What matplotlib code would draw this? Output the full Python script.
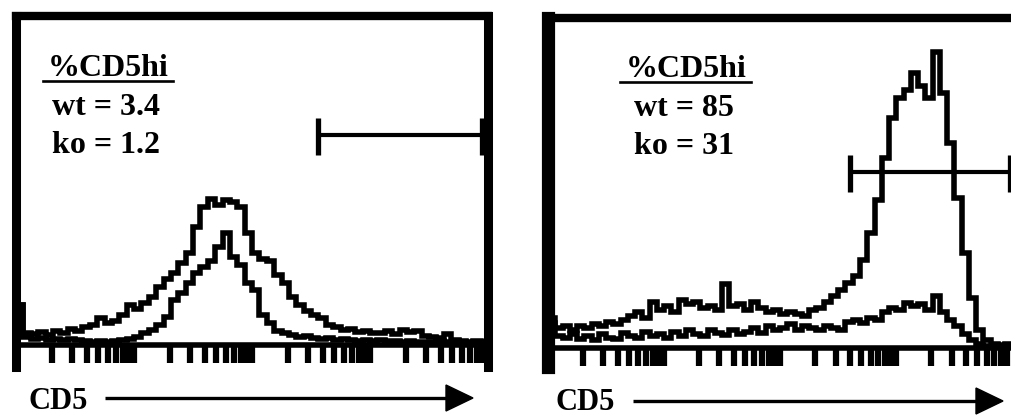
import numpy as np
import matplotlib
matplotlib.use("Agg")
import matplotlib.pyplot as plt
from matplotlib.patches import Polygon

# ---------------- data (counts per 4-channel bin, 256 channels, log 4 decades) -------------
left_wt = [40, 12, 11, 13, 10, 14, 12, 16, 14, 18, 20, 27, 22, 24, 30, 40,
           36, 42, 48, 58, 66, 72, 82, 92, 118, 138, 146, 140, 145, 143, 138, 112,
           92, 86, 84, 70, 62, 48, 40, 34, 30, 27, 20, 18, 15, 16, 13, 14,
           12, 12, 14, 11, 15, 13, 14, 9, 8, 7, 11, 5, 4, 3, 4, 3]
left_ko = [40, 8, 6, 7, 5, 6, 5, 6, 5, 4, 3, 4, 3, 4, 5, 6,
           8, 12, 15, 20, 28, 45, 52, 62, 72, 78, 84, 98, 112, 88, 80, 62,
           55, 30, 22, 14, 12, 10, 8, 9, 7, 6, 7, 5, 6, 5, 4, 5,
           4, 5, 4, 4, 3, 4, 3, 3, 3, 4, 3, 3, 2, 2, 2, 2]
right_wt = [30, 20, 22, 18, 22, 20, 24, 22, 26, 24, 28, 32, 36, 30, 46, 38,
            42, 36, 48, 44, 46, 40, 42, 38, 64, 42, 44, 38, 46, 40, 36, 38,
            34, 36, 34, 32, 38, 40, 46, 52, 58, 65, 72, 88, 115, 148, 190, 230,
            250, 258, 275, 262, 250, 296, 255, 205, 150, 95, 50, 18, 8, 4, 3, 4]
right_ko = [25, 12, 10, 14, 9, 12, 8, 14, 10, 9, 15, 12, 10, 16, 12, 14,
            10, 16, 12, 18, 14, 12, 18, 15, 13, 18, 14, 16, 20, 15, 22, 18,
            20, 24, 18, 22, 20, 18, 22, 20, 18, 26, 28, 25, 30, 28, 36, 40,
            38, 45, 42, 44, 38, 52, 36, 28, 22, 14, 8, 4, 2, 2, 2, 2]

bin_edges = np.arange(0, 257, 4)
gate_left = (164, 253)
gate_right = (166.5, 254.7)
header = "%CD5hi"
labels_left = ["wt = 3.4", "ko = 1.2"]
labels_right = ["wt = 85", "ko = 31"]
axis_label = "CD5"

# ---------------- figure ----------------
W, H = 1012, 417
fig = plt.figure(figsize=(W / 100, H / 100), dpi=100)
fig.patch.set_facecolor("white")
SERIF = ["Liberation Serif", "DejaVu Serif"]


def px_axes(l, t, r, b):
    return fig.add_axes([l / W, 1 - b / H, (r - l) / W, (b - t) / H])


decades = np.arange(4)
ks = np.arange(1, 10)
tick_pos = (64 * (decades[:, None] + np.log10(ks)[None, :])).ravel()
tick_pos = tick_pos[(tick_pos > 1)]


def panel(box, xmax, ylim, s_left, s_right, s_top, wt, ko, gate, gy):
    ax = px_axes(*box)
    ax.set_xlim(0, xmax)
    ax.set_ylim(*ylim)
    ax.stairs(wt, bin_edges, baseline=None, color="black", lw=4.0)
    ax.stairs(ko, bin_edges, baseline=None, color="black", lw=4.0)
    for side, w in (("left", s_left), ("right", s_right), ("top", s_top)):
        if w > 0:
            ax.spines[side].set_linewidth(w)
        else:
            ax.spines[side].set_visible(False)
    ax.spines["bottom"].set_position(("data", 0))
    ax.spines["bottom"].set_linewidth(4.0)
    ax.set_xticks(tick_pos)
    ax.tick_params(axis="x", direction="out", length=13, width=4.5,
                   labelbottom=False)
    ax.set_yticks([])
    # gate bar
    g0, g1 = gate
    yc, y0, y1 = gy
    ax.plot([g0, g1], [yc, yc], color="black", lw=3.0, solid_capstyle="butt")
    ax.plot([g0, g0], [y0, y1], color="black", lw=3.8, solid_capstyle="butt")
    ax.plot([g1, g1], [y0, y1], color="black", lw=3.8, solid_capstyle="butt",
            clip_on=False)
    return ax


panel((16, 16, 488, 367), 256, (-22, 329), 6.5, 6.5, 6.0,
      left_wt, left_ko, gate_left, (210, 190, 227))
panel((548, 18, 1016, 367), 258, (-19, 330), 9.5, 0, 6.0,
      right_wt, right_ko, gate_right, (176, 156, 193))

# ---------------- overlay in pixel coordinates ----------------
ov = fig.add_axes([0, 0, 1, 1], zorder=10)
ov.set_xlim(0, W)
ov.set_ylim(H, 0)
ov.axis("off")
ov.patch.set_alpha(0)

tk = dict(ha="center", va="baseline", fontsize=23, fontweight="bold",
          family=SERIF, color="black")


def stats(cx, ulx0, ulx1, lines, yoff=0):
    ov.text(cx, 76 + yoff, header, **tk)
    ov.plot([ulx0, ulx1], [81 + yoff, 81 + yoff], color="black", lw=1.9)
    ov.text(cx - 2, 115 + yoff, lines[0], **tk)
    ov.text(cx - 2, 153 + yoff, lines[1], **tk)


stats(108, 43, 173, labels_left)
stats(686, 620, 751, labels_right, yoff=1)


def axis_arrow(tx, x0, x1, y, base, head_len=27, half_w=13):
    ov.text(tx, base, axis_label, ha="left", va="baseline", fontsize=22,
            fontweight="bold", family=SERIF, color="black")
    ov.plot([x0, x1 - head_len + 2], [y, y], color="black", lw=2.4,
            solid_capstyle="butt")
    ov.add_patch(Polygon([[x1 - head_len, y - half_w], [x1, y],
                          [x1 - head_len, y + half_w]], closed=True,
                         facecolor="black", edgecolor="black"))


axis_arrow(29, 105, 473, 398, 409)
axis_arrow(556, 633, 1003, 401, 410)

fig.savefig("out.png", dpi=100, facecolor="white")
